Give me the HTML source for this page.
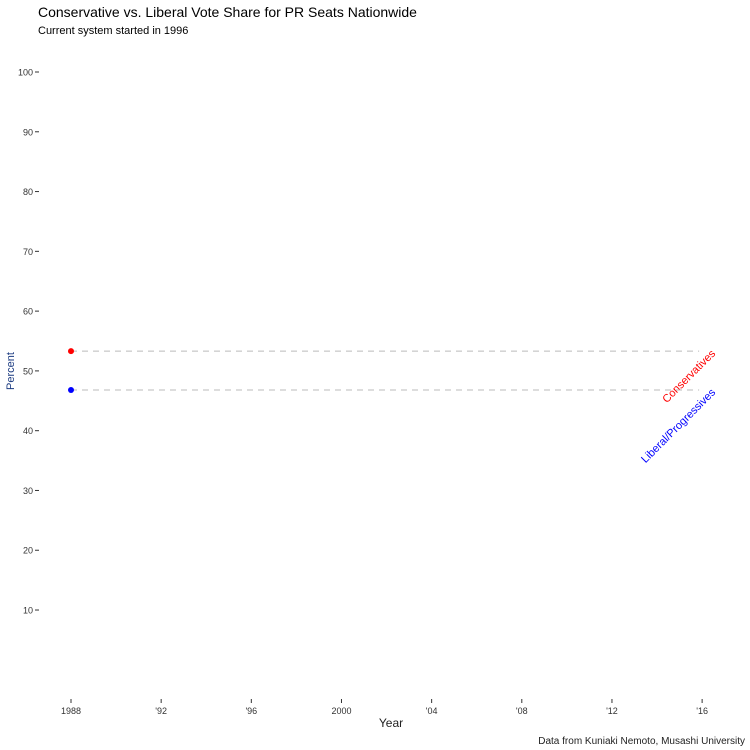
<!DOCTYPE html>
<html><head><meta charset="utf-8"><style>
body{margin:0;background:#fff}
svg{display:block;font-family:"Liberation Sans",Arial,sans-serif}
</style></head><body>
<svg id="c" width="750" height="750">
<text x="38" y="17" font-size="14" fill="#000">Conservative vs. Liberal Vote Share for PR Seats Nationwide</text>
<text x="38" y="34" font-size="11" fill="#000">Current system started in 1996</text>
<text x="391" y="727" font-size="12" text-anchor="middle" fill="#222">Year</text>
<text transform="translate(14,371) rotate(-90)" font-size="11" text-anchor="middle" fill="#1a3a80">Percent</text>
<text x="745" y="744" font-size="10" text-anchor="end" fill="#222">Data from Kuniaki Nemoto, Musashi University</text>
<g id="axes"></g><g id="marks"></g>
</svg>
<script>
const yTicks=[10,20,30,40,50,60,70,80,90,100];
const xTicks=[1988,1992,1996,2000,2004,2008,2012,2016];
const xTickLabels=["1988","'92","'96","2000","'04","'08","'12","'16"];
const seriesNames=["Conservatives","Liberal/Progressives"];
const seriesColors=["#ff0000","#0000ff"];
const seriesYears=[1988,1988];
const seriesValues=[53.3,46.8];
const y=v=>669.8-v*5.978;
const x=yr=>71+(yr-1988)*22.54;
const NS="http://www.w3.org/2000/svg";
function mk(t,a,p){const e=document.createElementNS(NS,t);for(const k in a)e.setAttribute(k,a[k]);p.appendChild(e);return e;}
const ax=document.getElementById('axes'),mg=document.getElementById('marks');
yTicks.forEach(v=>{
 const t=mk('text',{x:33,y:y(v)+3.5,'font-size':9,'text-anchor':'end',fill:'#333'},ax);t.textContent=v;
 
 
 const l=mk('line',{x1:35,x2:39,y1:y(v),y2:y(v),stroke:'#333'},ax);
 
 
});
xTicks.forEach((yr,i)=>{
 const l=mk('line',{x1:x(yr),x2:x(yr),y1:699,y2:703,stroke:'#333'},ax);
 
 
 const t=mk('text',{x:x(yr),y:714,'font-size':9,'text-anchor':'middle',fill:'#333'},ax);t.textContent=xTickLabels[i];
 
 
});
seriesValues.forEach((v,i)=>{
 const l=mk('line',{x1:x(seriesYears[i]),x2:x(2016)-3,y1:y(v),y2:y(v),stroke:'#bbb','stroke-dasharray':'6,5'},mg);
 
 
 const c=mk('circle',{cx:x(seriesYears[i]),cy:y(v),r:3,fill:seriesColors[i]},mg);
 
 
 const t=mk('text',{transform:`translate(716,${y(v)+3}) rotate(-45)`,'font-size':11,'text-anchor':'end',fill:seriesColors[i]},mg);
 t.textContent=seriesNames[i];
 
 
});
</script>
</body></html>
